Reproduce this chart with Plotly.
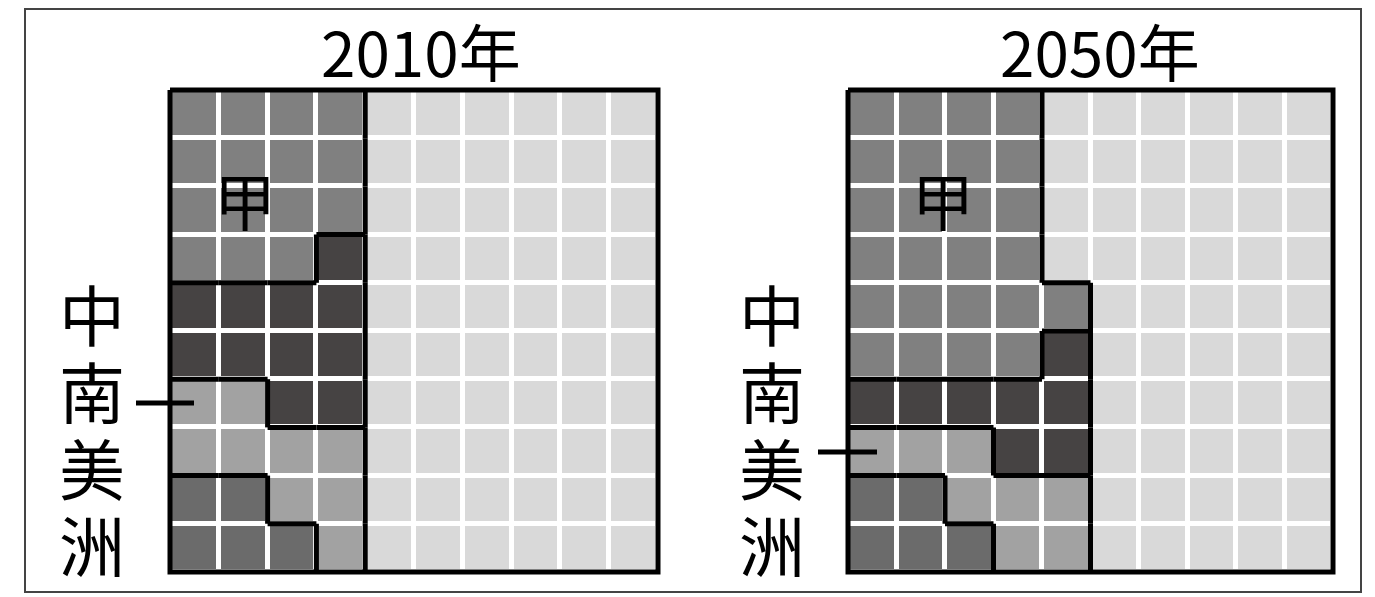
import plotly.graph_objects as go

W, H = 1375, 597
OFF = 8  # the page body adds an 8px margin around the figure
PAD = 0.1  # extra axis room so the outer border line is not clipped

# category codes: 0 = 其他 (background), 1 = 甲, 2 = dark group, 3 = 中南美洲, 4 = bottom group
colors = ["#d9d9d9", "#808080", "#464343", "#a2a2a2", "#6b6b6b"]

years = ["2010年", "2050年"]

grid_2010 = [
    "1111000000",
    "1111000000",
    "1111000000",
    "1112000000",
    "2222000000",
    "2222000000",
    "3322000000",
    "3333000000",
    "4433000000",
    "4443000000",
]

grid_2050 = [
    "1111000000",
    "1111000000",
    "1111000000",
    "1111000000",
    "1111100000",
    "1111200000",
    "2222200000",
    "3332200000",
    "4433300000",
    "4443300000",
]

grids = [grid_2010, grid_2050]


def px(x):
    return (x - OFF) / W


def py(y):
    return 1 - (y - OFF) / H


# pixel boxes of the two grids
boxes = [(170, 658, 90, 572), (848, 1333, 90, 572)]


def borders(grid):
    # segments where neighbouring cells belong to different groups
    xs, ys = [], []
    n_r, n_c = len(grid), len(grid[0])
    for r in range(n_r):
        for c in range(n_c):
            if c + 1 < n_c and grid[r][c] != grid[r][c + 1]:
                xs += [c + 0.5, c + 0.5, None]
                ys += [r - 0.5, r + 0.5, None]
            if r + 1 < n_r and grid[r][c] != grid[r + 1][c]:
                xs += [c - 0.5, c + 0.5, None]
                ys += [r + 0.5, r + 0.5, None]
    xs += [-0.5, n_c - 0.5, n_c - 0.5, -0.5, -0.5]
    ys += [-0.5, -0.5, n_r - 0.5, n_r - 0.5, -0.5]
    return xs, ys


fig = go.Figure()
scale = [[i / (len(colors) - 1), c] for i, c in enumerate(colors)]

for i, grid in enumerate(grids):
    ax = "" if i == 0 else str(i + 1)
    z = [[int(ch) for ch in row] for row in grid]
    fig.add_trace(go.Heatmap(
        z=z, zmin=0, zmax=len(colors) - 1, colorscale=scale,
        xgap=5, ygap=5, showscale=False, hoverinfo="skip",
        xaxis="x" + ax, yaxis="y" + ax,
    ))
    bx, by = borders(grid)
    fig.add_trace(go.Scatter(
        x=bx, y=by, mode="lines",
        line=dict(color="black", width=5),
        showlegend=False, hoverinfo="skip",
        xaxis="x" + ax, yaxis="y" + ax,
    ))

axis_style = dict(showgrid=False, zeroline=False, showticklabels=False,
                  ticks="", showline=False, fixedrange=True)

layout = dict(
    width=W, height=H,
    margin=dict(l=0, r=0, t=0, b=0),
    paper_bgcolor="white", plot_bgcolor="white",
    showlegend=False,
    font=dict(family="Noto Sans CJK TC, Noto Sans, sans-serif", color="black"),
)
for i, (x0, x1, y0, y1) in enumerate(boxes):
    ax = "" if i == 0 else str(i + 1)
    cw = (x1 - x0) / 10
    ch = (y1 - y0) / 10
    layout["xaxis" + ax] = dict(axis_style,
                                domain=[px(x0 - PAD * cw), px(x1 + PAD * cw)],
                                range=[-0.5 - PAD, 9.5 + PAD], anchor="y" + ax)
    layout["yaxis" + ax] = dict(axis_style,
                                domain=[py(y1 + PAD * ch), py(y0 - PAD * ch)],
                                range=[9.5 + PAD, -0.5 - PAD], anchor="x" + ax)
fig.update_layout(**layout)

ann = []
# titles
for t, cx in zip(years, [421, 1100]):
    ann.append(dict(text=t, x=px(cx), y=py(50), font=dict(size=62)))
# 甲 labels
for cx in [245, 943]:
    ann.append(dict(text="甲", x=px(cx), y=py(199), font=dict(size=62)))
# 中南美洲, vertical
label = "中南美洲"
for cx in [92, 772]:
    for k, c in enumerate(label):
        ann.append(dict(text=c, x=px(cx), y=py(312 + k * 77), font=dict(size=66)))
for a in ann:
    a.update(xref="paper", yref="paper", showarrow=False, xanchor="center", yanchor="middle")
fig.update_layout(annotations=ann)

shapes = [
    # leader lines to 中南美洲 cells
    dict(type="line", xref="paper", yref="paper", x0=px(136), x1=px(194), y0=py(403), y1=py(403),
         line=dict(color="black", width=5)),
    dict(type="line", xref="paper", yref="paper", x0=px(818), x1=px(877), y0=py(452), y1=py(452),
         line=dict(color="black", width=5)),
    # outer frame
    dict(type="rect", xref="paper", yref="paper", x0=px(25), x1=px(1361), y0=py(592), y1=py(9),
         line=dict(color="#444444", width=2), layer="below"),
]
fig.update_layout(shapes=shapes)

fig.write_html("out.html")
